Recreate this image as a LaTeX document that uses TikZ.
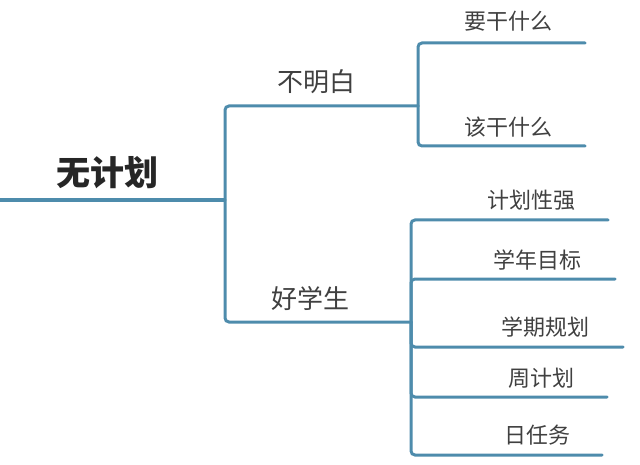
\documentclass[tikz,border=0pt]{standalone}
\usepackage{fontspec}
\newfontfamily\cjk{Noto Sans CJK SC}
\usetikzlibrary{positioning}
\definecolor{linkblue}{RGB}{78,140,172}

\begin{document}
\begin{tikzpicture}[
      x=1pt, y=-1pt,%
      branch/.style={draw=linkblue, line width=3, rounded corners=4, line cap=round},%
      trunk/.style={draw=linkblue, line width=4.5},%
      rootlbl/.style={font=\cjk\bfseries\fontsize{34}{34}\selectfont, text=black!85},%
      midlbl/.style={font=\cjk\fontsize{26}{26}\selectfont, text=black!75},%
      leaflbl/.style={font=\cjk\fontsize{22}{22}\selectfont, text=black!75}%
    ]
    \useasboundingbox (0,0) rectangle (640,465);

    %% Root
    \coordinate (r0) at (0,200);
    \coordinate (r1) at (225,200);
    \node[rootlbl] (root) at (107,173) {无计划};
    \draw[trunk] (r0) -- (r1);

    %% First branch: 不明白
    \coordinate (b1) at (418,106);
    \node[midlbl] (unclear) at (316,82) {不明白};
    \draw[branch] (r1) |- (b1);

    \coordinate (u1) at (585,43);
    \coordinate (u2) at (585,146);
    \node[leaflbl] (what) at (508,21) {要干什么};
    \node[leaflbl] (should) at (508,127) {该干什么};
    \draw[branch] (b1) |- (u1);
    \draw[branch] (b1) |- (u2);

    %% Second branch: 好学生
    \coordinate (b2) at (411,322);
    \node[midlbl] (good) at (310,299) {好学生};
    \draw[branch] (r1) |- (b2);

    \coordinate (g1) at (608,220);
    \coordinate (g2) at (615,279);
    \coordinate (g3) at (623,347);
    \coordinate (g4) at (607,397);
    \coordinate (g5) at (602,455);
    \node[leaflbl] (strong) at (531,200) {计划性强};
    \node[leaflbl] (year)   at (537,260) {学年目标};
    \node[leaflbl] (term)   at (545,327) {学期规划};
    \node[leaflbl] (week)   at (541,378) {周计划};
    \node[leaflbl] (day)    at (537,435) {日任务};
    \foreach \g in {g1,g2,g3,g4,g5}
      \draw[branch] (b2) |- (\g);
  \end{tikzpicture}
\end{document}
